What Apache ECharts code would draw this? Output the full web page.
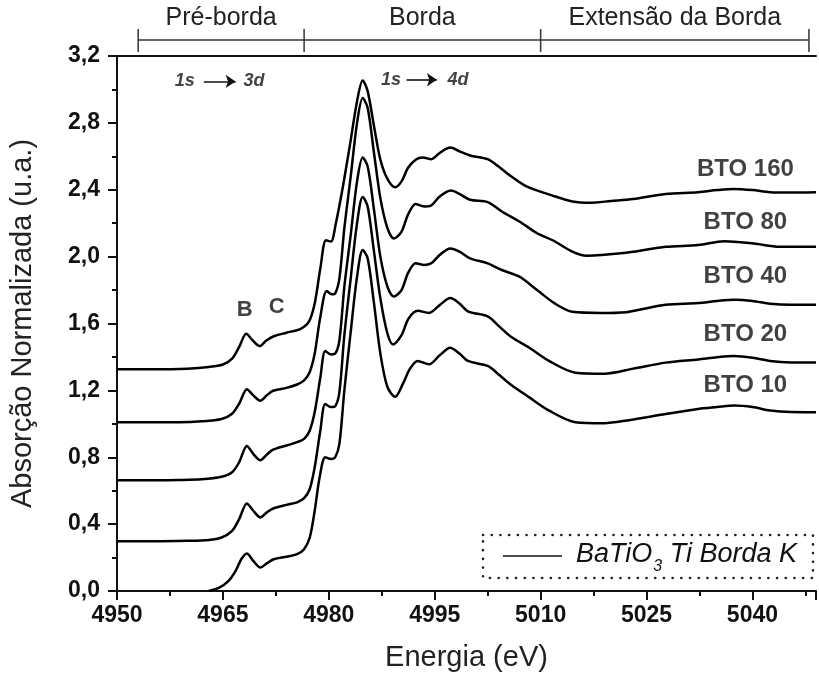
<!DOCTYPE html>
<html><head><meta charset="utf-8">
<script src="https://cdn.jsdelivr.net/npm/echarts@6/dist/echarts.min.js"></script>
<style>html,body{margin:0;padding:0;background:#fff}#c{width:819px;height:677px}</style>
</head><body><div id="c"></div>
<script>
// ---- data (energy eV, normalized absorption) ----
const bto10 = [[4963,0.0],[4964.5,0.02],[4965.8,0.06],[4966.8,0.12],[4967.6,0.19],[4968.4,0.225],[4969.3,0.18],[4970.3,0.14],[4971.2,0.165],[4972.2,0.19],[4974,0.205],[4975.5,0.22],[4976.5,0.25],[4977.3,0.32],[4978,0.48],[4978.7,0.68],[4979.5,0.80],[4980.3,0.79],[4980.9,0.80],[4981.5,0.88],[4982.2,1.20],[4983.1,1.55],[4984,1.88],[4984.8,2.039],[4985.5,1.99],[4986.4,1.72],[4987.3,1.42],[4988.3,1.22],[4989.4,1.162],[4990.5,1.24],[4991.5,1.33],[4992.6,1.376],[4994.2,1.356],[4995.7,1.41],[4997.2,1.455],[4998.5,1.42],[4999.7,1.376],[5002.5,1.346],[5004.2,1.29],[5005.7,1.237],[5008.4,1.158],[5011.2,1.079],[5014.9,1.01],[5019,1.004],[5022.2,1.02],[5027.7,1.059],[5032.3,1.089],[5035,1.10],[5037.4,1.109],[5040,1.10],[5042.5,1.079],[5045.5,1.07],[5049,1.069]];
const bto20 = [[4950,0.297],[4955,0.298],[4960,0.30],[4963,0.305],[4964.8,0.32],[4966.3,0.36],[4967.3,0.43],[4968.4,0.524],[4969.3,0.48],[4970.3,0.44],[4971.2,0.47],[4972.2,0.495],[4974,0.515],[4975.5,0.53],[4976.5,0.555],[4977.3,0.61],[4978,0.74],[4978.8,0.96],[4979.5,1.118],[4980.3,1.10],[4980.9,1.105],[4981.5,1.19],[4982.2,1.53],[4983.1,1.87],[4984,2.20],[4984.8,2.356],[4985.5,2.30],[4986.4,2.03],[4987.3,1.75],[4988.3,1.54],[4989.1,1.475],[4990.3,1.53],[4991.3,1.63],[4992.6,1.676],[4994.2,1.663],[4995.7,1.71],[4997.2,1.752],[4998.5,1.72],[4999.7,1.673],[5002.5,1.643],[5004.2,1.58],[5005.7,1.524],[5008.4,1.455],[5011.2,1.376],[5014.9,1.306],[5019,1.30],[5023.1,1.33],[5027.7,1.366],[5032.3,1.385],[5035,1.398],[5037.4,1.405],[5040,1.395],[5042.5,1.376],[5045.5,1.367],[5049,1.366]];
const bto40 = [[4950,0.663],[4955,0.663],[4958.8,0.664],[4962,0.668],[4964.8,0.683],[4966.3,0.71],[4967.3,0.77],[4968.4,0.868],[4969.3,0.82],[4970.3,0.782],[4971.2,0.815],[4972.1,0.845],[4974,0.87],[4975.5,0.89],[4976.5,0.91],[4977.3,0.96],[4978,1.07],[4978.8,1.277],[4979.5,1.435],[4980.3,1.415],[4980.9,1.42],[4981.5,1.50],[4982.2,1.82],[4983.1,2.13],[4984,2.45],[4984.8,2.593],[4985.5,2.54],[4986.4,2.28],[4987.3,2.00],[4988.3,1.82],[4989.2,1.762],[4990.3,1.80],[4991.2,1.90],[4992.3,1.96],[4993.5,1.95],[4994.5,1.96],[4995.7,2.01],[4997.2,2.049],[4998.5,2.03],[5000,1.99],[5002.5,1.96],[5004.5,1.92],[5007,1.88],[5009.5,1.80],[5012,1.72],[5014.5,1.67],[5018.6,1.663],[5022.2,1.668],[5024,1.682],[5027.7,1.712],[5032.3,1.722],[5035,1.735],[5037.4,1.742],[5040,1.735],[5042.5,1.718],[5045.5,1.712],[5049,1.712]];
const bto80 = [[4950,1.01],[4955,1.01],[4958.8,1.01],[4962,1.015],[4964.8,1.029],[4966.3,1.06],[4967.3,1.12],[4968.4,1.207],[4969.3,1.17],[4970.3,1.138],[4971.2,1.17],[4972.1,1.198],[4974,1.215],[4975.5,1.235],[4976.5,1.26],[4977.3,1.31],[4978,1.42],[4978.8,1.64],[4979.7,1.795],[4980.4,1.775],[4980.9,1.78],[4981.5,1.87],[4982.2,2.17],[4983.1,2.48],[4984,2.80],[4984.8,2.949],[4985.5,2.89],[4986.4,2.62],[4987.3,2.35],[4988.3,2.17],[4989.2,2.108],[4990.3,2.15],[4991.2,2.25],[4992.3,2.315],[4993.5,2.30],[4994.5,2.306],[4995.7,2.36],[4997.3,2.395],[4998.5,2.375],[5000,2.34],[5002.5,2.326],[5004.5,2.27],[5007.1,2.207],[5009.5,2.14],[5011.7,2.098],[5014.5,2.03],[5016.5,2.005],[5018.6,2.009],[5023.1,2.029],[5027.7,2.059],[5032.3,2.069],[5036,2.092],[5040.2,2.078],[5043.8,2.059],[5049,2.059]];
const bto160 = [[4950,1.326],[4955,1.326],[4960,1.33],[4963,1.34],[4965,1.355],[4966.3,1.39],[4967.3,1.46],[4968.3,1.538],[4969.2,1.50],[4970.2,1.465],[4971.2,1.50],[4972.3,1.525],[4974,1.545],[4976,1.568],[4977.2,1.613],[4978,1.72],[4978.8,1.93],[4979.6,2.098],[4980.3,2.09],[4981,2.2],[4982,2.42],[4983,2.67],[4984,2.93],[4984.8,3.054],[4985.5,2.99],[4986.4,2.78],[4987.3,2.58],[4988.3,2.465],[4989.4,2.415],[4990.3,2.45],[4991.2,2.53],[4992.3,2.58],[4993.3,2.593],[4994.5,2.583],[4995.7,2.62],[4997.2,2.652],[4998.5,2.63],[5000,2.605],[5002.5,2.583],[5004,2.54],[5005.7,2.484],[5008,2.42],[5011.7,2.365],[5014.5,2.33],[5017,2.322],[5020,2.333],[5023.1,2.345],[5027.7,2.375],[5032.3,2.385],[5035,2.398],[5037.4,2.405],[5040,2.398],[5042.5,2.385],[5045,2.383],[5049,2.385]];
const seriesData = [bto10, bto20, bto40, bto80, bto160];
const seriesNames = ['BTO 10', 'BTO 20', 'BTO 40', 'BTO 80', 'BTO 160'];
const nameLabels = [[5039, 1.227, 'BTO 10'], [5039, 1.534, 'BTO 20'], [5039, 1.88, 'BTO 40'], [5039, 2.207, 'BTO 80'], [5039, 2.52, 'BTO 160']];
const peakLabels = [[4968.1, 1.68, 'B'], [4972.6, 1.70, 'C']];
const transitionTexts = [[4959.6, 3.048, '1s'], [4969.4, 3.048, '3d'], [4988.8, 3.058, '1s'], [4998.3, 3.058, '4d']];
const transitionArrows = [[4962.3, 4966.8, 3.048], [4991.0, 4995.3, 3.058]];
const regionNames = ['Pré-borda', 'Borda', 'Extensão da Borda'];
const regionBounds = [4953, 4976.5, 5010, 5048];
const xMin = 4950, xMax = 5049, xStep = 15;
const yMin = 0, yMax = 3.2, yStep = 0.4;
const legendText = ['BaTiO', '3', ' Ti Borda K'];

const FONT = '"Liberation Sans", Arial, Helvetica, sans-serif';
const chart = echarts.init(document.getElementById('c'));

const lineSeries = seriesData.map((d, i) => ({
  name: seriesNames[i], type: 'line', data: d, showSymbol: false, smooth: 0.3,
  lineStyle: { color: '#000', width: 2.5 }, silent: true, z: 3
}));

const option = {
  animation: false,
  backgroundColor: '#fff',
  grid: { left: 102, right: 1, top: 56, bottom: 81, containLabel: false },
  xAxis: [{
    type: 'value', min: xMin, max: xMax, interval: xStep,
    name: 'Energia (eV)', nameLocation: 'middle', nameGap: 52,
    nameTextStyle: { fontFamily: FONT, fontSize: 29, color: '#222' },
    axisLine: { lineStyle: { color: '#111', width: 2 } },
    axisTick: { inside: false, length: 9, lineStyle: { color: '#111', width: 2 } },
    minorTick: { show: true, splitNumber: 2, length: 5, lineStyle: { color: '#111', width: 2 } },
    splitLine: { show: false },
    axisLabel: { margin: 13, fontFamily: FONT, fontSize: 23, fontWeight: 'bold', color: '#111',
      formatter: v => (Math.abs((v - xMin) % xStep) < 1e-6 ? String(v) : '') }
  }, {
    type: 'value', min: xMin, max: xMax, position: 'top',
    axisLine: { show: true, lineStyle: { color: '#111', width: 2 } },
    axisTick: { show: false }, axisLabel: { show: false }, splitLine: { show: false }
  }],
  yAxis: {
    type: 'value', min: yMin, max: yMax, interval: yStep,
    name: 'Absorção Normalizada (u.a.)', nameLocation: 'middle', nameGap: 80,
    nameTextStyle: { fontFamily: FONT, fontSize: 29, color: '#222' },
    axisLine: { show: true, lineStyle: { color: '#111', width: 2 } },
    axisTick: { show: true, inside: false, length: 9, lineStyle: { color: '#111', width: 2 } },
    minorTick: { show: true, splitNumber: 2, length: 5, lineStyle: { color: '#111', width: 2 } },
    splitLine: { show: false },
    axisLabel: { margin: 17, fontFamily: FONT, fontSize: 23, fontWeight: 'bold', color: '#111',
      formatter: v => v.toFixed(1).replace('.', ',') }
  },
  series: lineSeries.concat([
    {
      type: 'scatter', data: nameLabels, symbolSize: 0, silent: true, z: 5,
      label: { show: true, position: 'inside', formatter: p => p.data[2],
        fontFamily: FONT, fontSize: 24, fontWeight: 'bold', color: '#111' }
    },
    {
      type: 'scatter', data: peakLabels, symbolSize: 0, silent: true, z: 5,
      label: { show: true, position: 'inside', formatter: p => p.data[2],
        fontFamily: FONT, fontSize: 22, fontWeight: 'bold', color: '#111' }
    },
    {
      type: 'scatter', data: transitionTexts, symbolSize: 0, silent: true, z: 5,
      label: { show: true, position: 'inside', formatter: p => p.data[2],
        fontFamily: FONT, fontSize: 18, fontWeight: 'bold', fontStyle: 'italic', color: '#111' },
      markLine: {
        silent: true, symbol: ['none', 'arrow'], symbolSize: 10,
        label: { show: false },
        lineStyle: { color: '#111', width: 1.6, type: 'solid' },
        data: transitionArrows.map(a => [{ coord: [a[0], a[2]] }, { coord: [a[1], a[2]] }])
      }
    }
  ])
};
chart.setOption(option);

// ---- decorations: region bracket and legend box ----
const px = e => chart.convertToPixel({ xAxisIndex: 0 }, e);
const g = [];
const bY = 40, bTop = 29, bBot = 52;
g.push({ type: 'line', shape: { x1: px(regionBounds[0]), y1: bY, x2: px(regionBounds[regionBounds.length - 1]), y2: bY },
  style: { stroke: '#333', lineWidth: 1.5 }, silent: true });
regionBounds.forEach(e => g.push({ type: 'line', shape: { x1: px(e), y1: bTop, x2: px(e), y2: bBot },
  style: { stroke: '#333', lineWidth: 1.5 }, silent: true }));
regionNames.forEach((t, i) => g.push({ type: 'text', x: (px(regionBounds[i]) + px(regionBounds[i + 1])) / 2, y: 18,
  style: { text: t, fontFamily: FONT, fontSize: 25, fill: '#222', align: 'center', verticalAlign: 'middle' }, silent: true }));

// legend
g.push({ type: 'rect', shape: { x: 483, y: 535, width: 330, height: 43 },
  style: { fill: 'none', stroke: '#222', lineWidth: 2.6, lineDash: [0.1, 8.6], lineCap: 'round' }, silent: true });
g.push({ type: 'line', shape: { x1: 503, y1: 556, x2: 562, y2: 556 }, style: { stroke: '#111', lineWidth: 1.5 }, silent: true });
const ctx = document.createElement('canvas').getContext('2d');
ctx.font = 'italic 27px "Liberation Sans"';
const w1 = ctx.measureText(legendText[0]).width;
ctx.font = 'italic 16px "Liberation Sans"';
const w2 = ctx.measureText(legendText[1]).width;
const lx = 576;
g.push({ type: 'text', x: lx, y: 554, style: { text: legendText[0], fontFamily: FONT, fontSize: 27, fontStyle: 'italic', fill: '#111', align: 'left', verticalAlign: 'middle' }, silent: true });
g.push({ type: 'text', x: lx + w1 + 1, y: 567, style: { text: legendText[1], fontFamily: FONT, fontSize: 16, fontStyle: 'italic', fill: '#111', align: 'left', verticalAlign: 'middle' }, silent: true });
g.push({ type: 'text', x: lx + w1 + w2 + 1, y: 554, style: { text: legendText[2], fontFamily: FONT, fontSize: 27, fontStyle: 'italic', fill: '#111', align: 'left', verticalAlign: 'middle' }, silent: true });
chart.setOption({ graphic: g });
</script>
</body></html>
